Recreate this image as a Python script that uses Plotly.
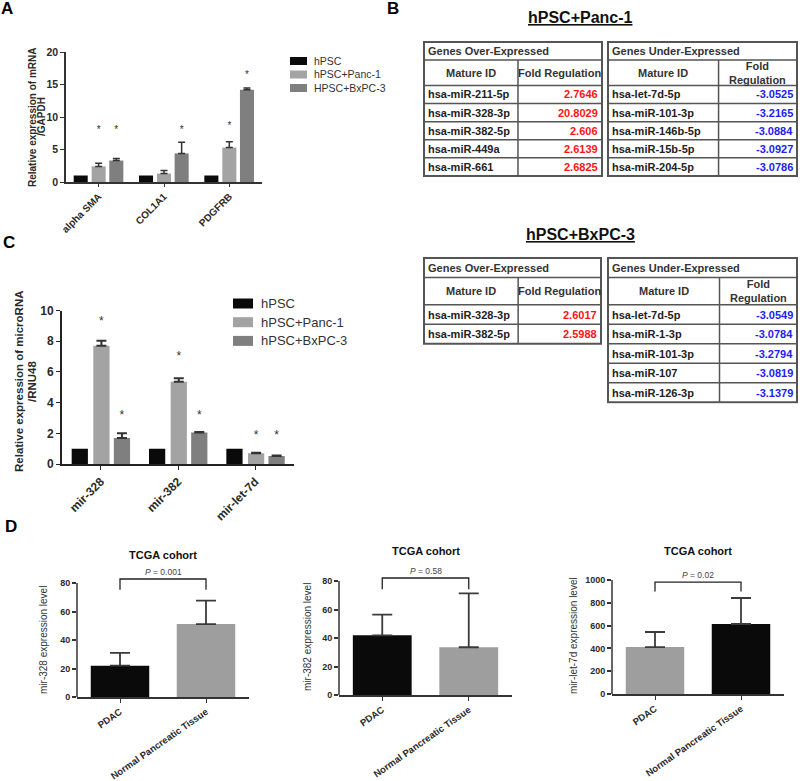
import plotly.graph_objects as go

W, H = 800, 781
FONT = "Arial, 'Liberation Sans', sans-serif"

# ---------------- Panel A data ----------------
a_genes = ["alpha SMA", "COL1A1", "PDGFRB"]
a_series = ["hPSC", "hPSC+Panc-1", "HPSC+BxPC-3"]
a_hpsc = [1.0, 1.0, 1.0]
a_hpsc_err = [0.0, 0.0, 0.0]
a_panc = [2.4, 1.3, 5.3]
a_panc_err = [0.5, 0.45, 0.9]
a_bxpc = [3.3, 4.4, 14.2]
a_bxpc_err = [0.3, 1.7, 0.25]
a_star_hpsc = [None, None, None]
a_star_panc = [7.9, None, 8.5]
a_star_bxpc = [7.9, 7.9, 16.4]

# ---------------- Panel C data ----------------
c_mirs = ["mir-328", "mir-382", "mir-let-7d"]
c_series = ["hPSC", "hPSC+Panc-1", "hPSC+BxPC-3"]
c_hpsc = [1.0, 1.0, 1.0]
c_hpsc_err = [0.0, 0.0, 0.0]
c_panc = [7.7, 5.36, 0.7]
c_panc_err = [0.33, 0.22, 0.04]
c_bxpc = [1.7, 2.06, 0.52]
c_bxpc_err = [0.3, 0.03, 0.03]
c_star_hpsc = [None, None, None]
c_star_panc = [9.25, 6.95, 1.85]
c_star_bxpc = [3.15, 3.15, 1.85]

# ---------------- Panel D data ----------------
d_groups = ["PDAC", "Normal Pancreatic Tissue"]
d_mirs = ["mir-328", "mir-382", "mir-let-7d"]
d_mir328 = [22.0, 51.2]
d_mir328_err = [8.9, 16.4]
d_mir382 = [41.9, 33.5]
d_mir382_err = [14.5, 37.8]
d_let7d = [412, 614]
d_let7d_err = [132, 228]
d_pvals = ["0.001", "0.58", "0.02"]
d_bracket_top = [82.8, 82.1, 982]
d_bracket_leg = [75.3, 74.2, 900]

# ---------------- Panel B tables ----------------
t1_over_ids = ["hsa-miR-211-5p", "hsa-miR-328-3p", "hsa-miR-382-5p", "hsa-miR-449a", "hsa-miR-661"]
t1_over_fold = ["2.7646", "20.8029", "2.606", "2.6139", "2.6825"]
t1_under_ids = ["hsa-let-7d-5p", "hsa-miR-101-3p", "hsa-miR-146b-5p", "hsa-miR-15b-5p", "hsa-miR-204-5p"]
t1_under_fold = ["-3.0525", "-3.2165", "-3.0884", "-3.0927", "-3.0786"]
t2_over_ids = ["hsa-miR-328-3p", "hsa-miR-382-5p"]
t2_over_fold = ["2.6017", "2.5988"]
t2_under_ids = ["hsa-let-7d-5p", "hsa-miR-1-3p", "hsa-miR-101-3p", "hsa-miR-107", "hsa-miR-126-3p"]
t2_under_fold = ["-3.0549", "-3.0784", "-3.2794", "-3.0819", "-3.1379"]

# ---------------- styles ----------------
BLACK, LGRAY, DGRAY = "#0a0a0a", "#a3a3a3", "#7f7f7f"
INK = "#2a2a2a"


def fx(px):
    return px / W


def fy(py):
    return 1 - py / H


def dom_x(p0, p1):
    return [max(0.0, p0 / W), min(1.0, p1 / W)]


def dom_y(ptop, pbot):
    return [max(0.0, 1 - pbot / H), min(1.0, 1 - ptop / H)]


fig = go.Figure()
layout = dict(width=W, height=H, autosize=False,
              margin=dict(l=0, r=0, t=0, b=0, pad=0, autoexpand=False),
              paper_bgcolor="white", plot_bgcolor="white",
              font=dict(family=FONT, color=INK), showlegend=False,
              barmode="overlay")
shapes, annotations = [], []


def ann(text, x, y, size, bold=False, color=INK, angle=0, xanchor="center",
        yanchor="middle", xref="paper", yref="paper", **fontkw):
    f = dict(size=size, color=color, family=FONT, weight="bold" if bold else "normal")
    f.update(fontkw)
    annotations.append(dict(text=text, x=x, y=y, xref=xref, yref=yref, showarrow=False,
                            textangle=angle, xanchor=xanchor, yanchor=yanchor, font=f))


def axis_name(ref):
    return "xaxis" + ref[1:] if ref.startswith("x") else "yaxis" + ref[1:]


def grouped_panel(xa, ya, cats, vals, errs, stars, colors, offsets, bw, errw, errth, star_size):
    for j in range(len(vals)):
        xs = [i + offsets[j] for i in range(len(cats))]
        has_err = any(e > 0 for e in errs[j])
        fig.add_trace(go.Bar(
            x=xs, y=vals[j], width=bw, xaxis=xa, yaxis=ya,
            marker=dict(color=colors[j], line=dict(width=0)),
            error_y=dict(type="data", array=errs[j], arrayminus=[0] * len(errs[j]),
                         symmetric=False, color="#333333", thickness=errth, width=errw,
                         visible=has_err),
            hoverinfo="skip"))
        sx = [x for x, s in zip(xs, stars[j]) if s is not None]
        sy = [s for s in stars[j] if s is not None]
        if sx:
            fig.add_trace(go.Scatter(x=sx, y=sy, mode="text", text=["*"] * len(sx),
                                     textfont=dict(size=star_size, color="#333333", family=FONT),
                                     xaxis=xa, yaxis=ya, cliponaxis=False, hoverinfo="skip"))


# ================= Panel A =================
layout["xaxis"] = dict(domain=dom_x(66, 262), range=[-0.5, 2.5], anchor="y", automargin=False,
                       tickvals=list(range(len(a_genes))), ticktext=a_genes, tickangle=-45,
                       tickfont=dict(size=10, weight="bold", color=INK),
                       showline=True, linecolor="#333", linewidth=1.5, ticks="outside",
                       ticklen=3, tickcolor="#333", showgrid=False, zeroline=False)
layout["yaxis"] = dict(domain=dom_y(52, 182), range=[0, 20], anchor="x", dtick=5, automargin=False,
                       tickfont=dict(size=10.5, weight="bold", color=INK),
                       showline=True, linecolor="#333", linewidth=1.5, ticks="outside",
                       ticklen=4, tickcolor="#333", showgrid=False, zeroline=False)
grouped_panel("x", "y", a_genes, [a_hpsc, a_panc, a_bxpc], [a_hpsc_err, a_panc_err, a_bxpc_err],
              [a_star_hpsc, a_star_panc, a_star_bxpc], [BLACK, LGRAY, DGRAY],
              [-0.275, 0.0, 0.27], 0.215, 3.5, 1.5, 10)
ann("Relative expression of mRNA", fx(32), fy(117), 10, bold=True, angle=-90)
ann("/GAPDH", fx(41), fy(117), 10, bold=True, angle=-90)
for i, (name, col) in enumerate(zip(a_series, [BLACK, LGRAY, DGRAY])):
    cy = 61 + i * 13.5
    shapes.append(dict(type="rect", xref="paper", yref="paper", x0=fx(290), x1=fx(307),
                       y0=fy(cy + 4), y1=fy(cy - 4), fillcolor=col, line=dict(width=0)))
    ann(name, fx(312), fy(cy), 10.5, xanchor="left", color="#333")

# ================= Panel C =================
layout["xaxis2"] = dict(domain=dom_x(62, 294), range=[-0.5, 2.5], anchor="y2", automargin=False,
                        tickvals=list(range(len(c_mirs))), ticktext=c_mirs, tickangle=-45,
                        tickfont=dict(size=12, weight="bold", color=INK),
                        showline=True, linecolor="#222", linewidth=2, ticks="outside",
                        ticklen=4, tickcolor="#222", showgrid=False, zeroline=False)
layout["yaxis2"] = dict(domain=dom_y(310.5, 464), range=[0, 10], anchor="x2", dtick=2, automargin=False,
                        tickfont=dict(size=12, weight="bold", color=INK),
                        showline=True, linecolor="#222", linewidth=2, ticks="outside",
                        ticklen=4, tickcolor="#222", showgrid=False, zeroline=False)
grouped_panel("x2", "y2", c_mirs, [c_hpsc, c_panc, c_bxpc], [c_hpsc_err, c_panc_err, c_bxpc_err],
              [c_star_hpsc, c_star_panc, c_star_bxpc], [BLACK, LGRAY, DGRAY],
              [-0.27, 0.01, 0.275], 0.21, 5, 2, 12)
ann("Relative expression of microRNA", fx(19), fy(381), 11.5, bold=True, angle=-90)
ann("/RNU48", fx(32), fy(381), 11.5, bold=True, angle=-90)
for i, (name, col) in enumerate(zip(c_series, [BLACK, LGRAY, DGRAY])):
    cy = 303.5 + i * 18.7
    shapes.append(dict(type="rect", xref="paper", yref="paper", x0=fx(233), x1=fx(253),
                       y0=fy(cy + 5), y1=fy(cy - 5), fillcolor=col, line=dict(width=0)))
    ann(name, fx(259), fy(cy), 13, xanchor="left", color="#333")

# ================= Panel D =================
d_vals = [d_mir328, d_mir382, d_let7d]
d_errs = [d_mir328_err, d_mir382_err, d_let7d_err]
d_colors = [[BLACK, "#9e9e9e"], [BLACK, "#9e9e9e"], ["#9e9e9e", BLACK]]
d_xpx = [(77, 249), (339, 512), (612, 784)]
d_zero_px = [697, 695, 694]
d_top_val = [80, 80, 1000]
d_unit_px = [114 / 80, 114 / 80, 114 / 1000]
d_range_max = [88, 88, 1100]
d_dtick = [20, 20, 200]
d_title_px = [(43, 640), (307, 637), (573, 636)]
d_tcga_y = [555, 551, 551]
for k in range(3):
    xa, ya = "x%d" % (k + 3), "y%d" % (k + 3)
    top_px = d_zero_px[k] - d_range_max[k] * d_unit_px[k]
    layout[axis_name(xa)] = dict(domain=dom_x(*d_xpx[k]), range=[-0.5, 1.5], anchor=ya, automargin=False,
                                 tickvals=[0, 1], ticktext=d_groups, tickangle=-35,
                                 tickfont=dict(size=9.5, weight="bold", color=INK),
                                 showline=True, linecolor="#333", linewidth=1.5, ticks="outside",
                                 ticklen=4, tickcolor="#333", showgrid=False, zeroline=False)
    layout[axis_name(ya)] = dict(domain=dom_y(top_px, d_zero_px[k]), range=[0, d_range_max[k]],
                                 anchor=xa, tickmode="linear", tick0=0, dtick=d_dtick[k], automargin=False,
                                 tickfont=dict(size=9, weight="bold", color=INK),
                                 showline=False, ticks="outside", ticklen=4, tickcolor="#333",
                                 tickwidth=1.5, showgrid=False, zeroline=False)
    # y axis line up to the top tick
    shapes.append(dict(type="line", xref=xa + " domain", yref=ya, x0=0, x1=0, y0=0,
                       y1=d_top_val[k], line=dict(color="#333", width=1.5)))
    fig.add_trace(go.Bar(x=list(range(len(d_groups))), y=d_vals[k], width=0.68, xaxis=xa, yaxis=ya,
                         marker=dict(color=d_colors[k], line=dict(width=0)),
                         error_y=dict(type="data", array=d_errs[k], arrayminus=[0, 0],
                                      symmetric=False, color="#3a3a3a", thickness=1.8, width=10),
                         hoverinfo="skip"))
    fig.add_trace(go.Scatter(x=[0, 0, 1, 1],
                             y=[d_bracket_leg[k], d_bracket_top[k], d_bracket_top[k], d_bracket_leg[k]],
                             mode="lines", line=dict(color="#222", width=1.3), xaxis=xa, yaxis=ya,
                             hoverinfo="skip"))
    ann("<i>P</i> = " + d_pvals[k], 0.5, d_bracket_top[k], 8.5, color="#444",
        xref=xa, yref=ya, yanchor="bottom")
    ann("TCGA cohort", 0.5, fy(d_tcga_y[k]), 11, bold=True, color="#111", xref=xa)
    ann(d_mirs[k] + " expression level", fx(d_title_px[k][0]), fy(d_title_px[k][1]), 10,
        angle=-90, color="#333")


# ================= Panel B tables =================
def add_table(k, left, right, top, unit, split, ids, folds, head, fold_head, fold_color):
    xa, ya = "x%d" % k, "y%d" % k
    units = [1.0, 1.4] + [1.0] * len(ids)
    bounds = [0.0]
    for u in units:
        bounds.append(bounds[-1] + u)
    total = bounds[-1]
    pad_px = 1.5
    width = right - left
    padx = pad_px / width
    pady = pad_px / unit
    layout[axis_name(xa)] = dict(domain=dom_x(left - pad_px, right + pad_px), automargin=False,
                                 range=[-padx, 1 + padx], anchor=ya, visible=False)
    layout[axis_name(ya)] = dict(domain=dom_y(top - pad_px, top + total * unit + pad_px), automargin=False,
                                 range=[total + pady, -pady], anchor=xa, visible=False)
    fig.add_trace(go.Scatter(x=[], y=[], xaxis=xa, yaxis=ya, hoverinfo="skip"))
    lc = "#555"
    shapes.append(dict(type="rect", xref=xa, yref=ya, x0=0, x1=1, y0=0, y1=total,
                       line=dict(color=lc, width=2)))
    for b in bounds[1:-1]:
        shapes.append(dict(type="line", xref=xa, yref=ya, x0=0, x1=1, y0=b, y1=b,
                           line=dict(color=lc, width=1.5)))
    shapes.append(dict(type="line", xref=xa, yref=ya, x0=split, x1=split, y0=bounds[1], y1=total,
                       line=dict(color=lc, width=1.5)))
    ann(head, 0.012, (bounds[0] + bounds[1]) / 2, 11, bold=True, color="#333",
        xref=xa, yref=ya, xanchor="left")
    hy = (bounds[1] + bounds[2]) / 2
    ann("Mature ID", split / 2, hy, 11, bold=True, color="#333", xref=xa, yref=ya)
    ann(fold_head, (split + 1) / 2, hy, 11, bold=True, color="#333", xref=xa, yref=ya)
    for i, (mid, fv) in enumerate(zip(ids, folds)):
        ry = (bounds[i + 2] + bounds[i + 3]) / 2
        ann(mid, 0.012, ry, 11, bold=True, color="#222", xref=xa, yref=ya, xanchor="left")
        ann(fv, 0.99, ry, 11, bold=True, color=fold_color, xref=xa, yref=ya, xanchor="right")


RED, BLUE = "#ff1414", "#2222ee"
add_table(6, 424, 602, 42, 18.1, 0.528, t1_over_ids, t1_over_fold, "Genes Over-Expressed",
          "Fold Regulation", RED)
add_table(7, 608, 797, 42, 18.1, 0.585, t1_under_ids, t1_under_fold, "Genes Under-Expressed",
          "Fold<br>Regulation", BLUE)
add_table(8, 424, 601, 258, 19.5, 0.532, t2_over_ids, t2_over_fold, "Genes Over-Expressed",
          "Fold Regulation", RED)
add_table(9, 608, 797, 258, 19.5, 0.59, t2_under_ids, t2_under_fold, "Genes Under-Expressed",
          "Fold<br>Regulation", BLUE)
ann("hPSC+Panc-1", fx(580), fy(18), 16, bold=True, color="#111", lineposition="under")
ann("hPSC+BxPC-3", fx(580), fy(234), 16, bold=True, color="#111", lineposition="under")

# ================= panel letters =================
for letter, (px, py) in zip(["A", "B", "C", "D"], [(7, 8), (393, 8), (9, 242), (11, 526)]):
    ann(letter, fx(px), fy(py), 17, bold=True, color="#000")

layout["shapes"] = shapes
layout["annotations"] = annotations
fig.update_layout(**layout)
fig.write_html("out.html", config={"displayModeBar": False},
               post_script="document.body.style.margin='0';document.body.style.overflow='hidden';")
